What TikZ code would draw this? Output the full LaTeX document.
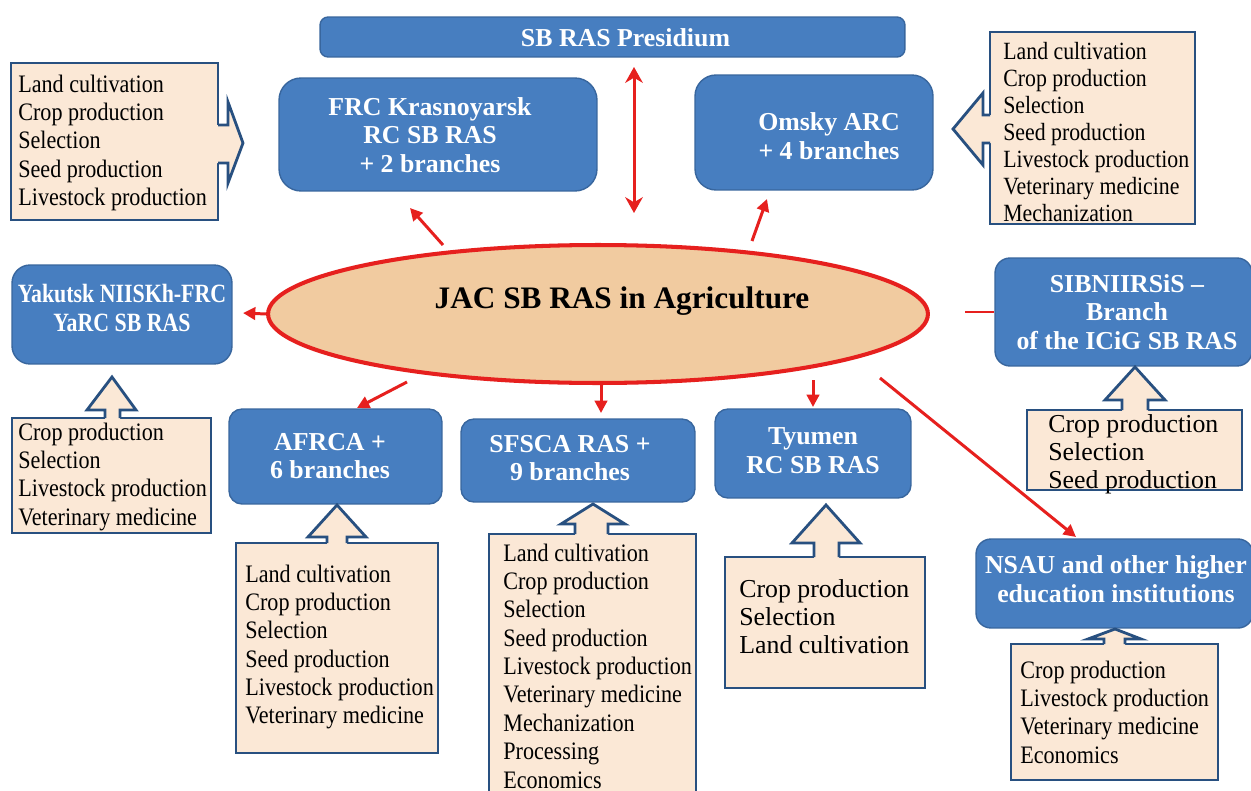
\documentclass[tikz,border=0pt]{standalone}
\usepackage{fontspec}
\setmainfont{Liberation Serif}
\newfontfamily\listfont[FakeStretch=0.88]{Liberation Serif}
\newfontfamily\condbold[FakeStretch=0.83]{Liberation Serif}
\usetikzlibrary{shapes.geometric,arrows.meta}
\definecolor{boxblue}{RGB}{71,126,192}
\definecolor{boxedge}{RGB}{56,102,158}
\definecolor{peach}{RGB}{251,232,214}
\definecolor{listedge}{RGB}{40,80,128}
\definecolor{ellfill}{RGB}{241,203,160}
\definecolor{arrred}{RGB}{230,32,30}
\tikzset{
 bluebox/.style={draw=boxedge, line width=0.8pt, fill=boxblue, inner sep=0pt},
 boxlabel/.style={text=white, font=\bfseries\fontsize{14.7}{16.4}\selectfont, align=center, inner sep=0pt},
 listbox/.style={draw=listedge, line width=1.6pt, fill=peach, inner sep=0pt},
 listtext/.style={anchor=base west, inner sep=0pt, font=\listfont\fontsize{14.3}{16.16}\selectfont},
 bigtext/.style={anchor=base west, inner sep=0pt, font=\fontsize{14.7}{16.16}\selectfont},
 blockarrow/.style={draw=listedge, line width=1.6pt, line join=miter},
 redline/.style={draw=arrred, line width=1.7pt},
 redarrow/.style={redline, -{Triangle[length=7pt,width=7pt]}},
}
\newcommand\blockup[8]{%
 \fill[peach] (#6,#8+5) -- (#6,#3) -- (#4,#3) -- (#1,#2) -- (#5,#3) -- (#7,#3) -- (#7,#8+5) -- cycle;
 \draw[blockarrow] (#6,#8) -- (#6,#3) -- (#4,#3) -- (#1,#2) -- (#5,#3) -- (#7,#3) -- (#7,#8);}
\begin{document}
\begin{tikzpicture}[x=0.02cm,y=-0.02cm]
\useasboundingbox (0,0) rectangle (1251,791);
\clip (0,0) rectangle (1251,791);
\fill[white] (0,0) rectangle (1251,791);

% blue boxes
\node[bluebox, rounded corners=0.16cm, minimum width=11.70cm, minimum height=0.80cm] (pres) at (612.5,37) {};
\node[bluebox, rounded corners=0.44cm, minimum width=6.36cm, minimum height=2.26cm] (frc) at (438,134.5) {};
\node[bluebox, rounded corners=0.42cm, minimum width=4.76cm, minimum height=2.30cm] (omsk) at (814,132.5) {};
\node[bluebox, rounded corners=0.36cm, minimum width=4.40cm, minimum height=1.98cm] (yak) at (122,314.5) {};
\node[bluebox, rounded corners=0.26cm, minimum width=4.26cm, minimum height=1.90cm] (afrca) at (335.5,456.5) {};
\node[bluebox, rounded corners=0.26cm, minimum width=4.68cm, minimum height=1.66cm] (sfsca) at (578,460.5) {};
\node[bluebox, rounded corners=0.26cm, minimum width=3.92cm, minimum height=1.78cm] (tyumen) at (813,453.5) {};
\node[bluebox, rounded corners=0.30cm, minimum width=5.14cm, minimum height=2.16cm] (sib) at (1123.5,312) {};
\node[bluebox, rounded corners=0.30cm, minimum width=5.54cm, minimum height=1.78cm] (nsau) at (1114.5,583.5) {};

% list boxes
\node[listbox, minimum width=4.14cm, minimum height=3.14cm] (lfrc) at (114.5,141.5) {};
\node[listbox, minimum width=4.10cm, minimum height=3.84cm] (lomsk) at (1092.5,128) {};
\node[listbox, minimum width=3.98cm, minimum height=2.30cm] (lyak) at (111.5,475.5) {};
\node[listbox, minimum width=4.04cm, minimum height=4.20cm] (lafrca) at (337,648) {};
\node[listbox, minimum width=4.14cm, minimum height=5.52cm] (lsfsca) at (592.5,672) {};
\node[listbox, minimum width=4.00cm, minimum height=2.62cm] (ltyumen) at (825,622.5) {};
\node[listbox, minimum width=4.30cm, minimum height=1.60cm] (lsib) at (1134.5,450) {};
\node[listbox, minimum width=4.14cm, minimum height=2.72cm] (lnsau) at (1114.5,712) {};

% block arrows
\fill[peach] (212,125) -- (228,125) -- (228,102) -- (243,143) -- (228,183) -- (228,163) -- (212,163) -- cycle;
\draw[blockarrow] (218,125) -- (228,125) -- (228,102) -- (243,143) -- (228,183) -- (228,163) -- (218,163);
\fill[peach] (996,115) -- (983,115) -- (983,93) -- (953,129) -- (983,165) -- (983,143) -- (996,143) -- cycle;
\draw[blockarrow] (990,115) -- (983,115) -- (983,93) -- (953,129) -- (983,165) -- (983,143) -- (990,143);
\blockup{112}{377}{410}{87}{136}{105}{120}{418}
\blockup{337}{505}{537}{308}{366}{327}{347}{543}
\blockup{593}{504}{524}{561}{625}{575}{608}{534}
\blockup{826}{505}{543}{792}{860}{814}{839}{557}
\blockup{1135}{367}{400}{1105}{1165}{1122}{1148}{410}
\blockup{1115}{629}{639}{1088}{1141}{1104}{1125}{644}

% ellipse
\node[ellipse, draw=arrred, line width=2.3pt, fill=ellfill, minimum width=13.2cm, minimum height=2.76cm, inner sep=0pt] (ell) at (598,314) {};
\node[font=\bfseries\fontsize{17.8}{20}\selectfont, inner sep=0pt] (ell-t) at (622,301) {JAC SB RAS in Agriculture};

% box labels
\node[boxlabel] (pres-t) at (625.5,38) {SB RAS Presidium};
\node[boxlabel] (frc-t) at (430,135) {FRC Krasnoyarsk\\RC SB RAS\\+ 2 branches};
\node[boxlabel] (omsk-t) at (829,136) {Omsky ARC\\+ 4 branches};
\node[boxlabel, font=\condbold\bfseries\fontsize{15}{16.4}\selectfont] (yak-t) at (122,308) {Yakutsk NIISKh-FRC\\YaRC SB RAS};
\node[boxlabel] (afrca-t) at (330,456) {AFRCA +\\6 branches};
\node[boxlabel] (sfsca-t) at (570,458) {SFSCA RAS +\\9 branches};
\node[boxlabel] (tyumen-t) at (813,451) {Tyumen\\RC SB RAS};
\node[boxlabel] (sib-t) at (1127,312) {SIBNIIRSiS --\\Branch\\of the ICiG SB RAS};
\node[boxlabel] (nsau-t) at (1116,579) {NSAU and other higher\\education institutions};

% list texts
\node[listtext] (lfrc-t) at (18,92) {\begin{tabular}[t]{@{}l@{}}Land cultivation\\Crop production\\Selection\\Seed production\\Livestock production\end{tabular}};
\node[listtext, font=\listfont\fontsize{14.1}{15.4}\selectfont] (lomsk-t) at (1003,59) {\begin{tabular}[t]{@{}l@{}}Land cultivation\\Crop production\\Selection\\Seed production\\Livestock production\\Veterinary medicine\\Mechanization\end{tabular}};
\node[listtext] (lyak-t) at (18,440) {\begin{tabular}[t]{@{}l@{}}Crop production\\Selection\\Livestock production\\Veterinary medicine\end{tabular}};
\node[listtext] (lafrca-t) at (245,582) {\begin{tabular}[t]{@{}l@{}}Land cultivation\\Crop production\\Selection\\Seed production\\Livestock production\\Veterinary medicine\end{tabular}};
\node[listtext] (lsfsca-t) at (503,561) {\begin{tabular}[t]{@{}l@{}}Land cultivation\\Crop production\\Selection\\Seed production\\Livestock production\\Veterinary medicine\\Mechanization\\Processing\\Economics\end{tabular}};
\node[bigtext] (ltyumen-t) at (739,597) {\begin{tabular}[t]{@{}l@{}}Crop production\\Selection\\Land cultivation\end{tabular}};
\node[bigtext] (lsib-t) at (1048,432) {\begin{tabular}[t]{@{}l@{}}Crop production\\Selection\\Seed production\end{tabular}};
\node[listtext] (lnsau-t) at (1020,678) {\begin{tabular}[t]{@{}l@{}}Crop production\\Livestock production\\Veterinary medicine\\Economics\end{tabular}};

% red connectors
\coordinate (c-pres-a) at (634,67);
\coordinate (c-pres-b) at (634,213);
\draw[redline, {Stealth[length=9pt,width=10pt]}-{Stealth[length=9pt,width=10pt]}] (c-pres-b) -- (c-pres-a);
\coordinate (c-frc-a) at (443,245);
\coordinate (c-frc-b) at (410,208);
\draw[redarrow] (c-frc-a) -- (c-frc-b);
\coordinate (c-omsk-a) at (752,241);
\coordinate (c-omsk-b) at (767,199);
\draw[redarrow] (c-omsk-a) -- (c-omsk-b);
\coordinate (c-yak-b) at (243,313);
\draw[redarrow] (ell.west) -- (c-yak-b);
\coordinate (c-afrca-a) at (407,382);
\coordinate (c-afrca-b) at (357,408);
\draw[redarrow] (c-afrca-a) -- (c-afrca-b);
\coordinate (c-sfsca-b) at (601,413);
\draw[redarrow] (ell.south -| c-sfsca-b) -- (c-sfsca-b);
\coordinate (c-tyu-a) at (813,380);
\coordinate (c-tyu-b) at (813,407);
\draw[redarrow] (c-tyu-a) -- (c-tyu-b);
\coordinate (c-nsau-a) at (880,378);
\coordinate (c-nsau-b) at (1076,537);
\draw[redarrow] (c-nsau-a) -- (c-nsau-b);
\coordinate (c-sib-a) at (965,312);
\draw[redline] (c-sib-a) -- (sib.west);
\end{tikzpicture}
\end{document}
